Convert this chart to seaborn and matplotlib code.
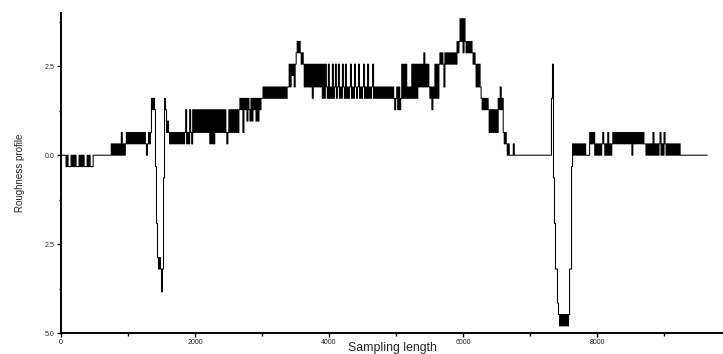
import numpy as np
import pandas as pd
import matplotlib
matplotlib.use("Agg")
import matplotlib.pyplot as plt
import seaborn as sns
from matplotlib.ticker import MultipleLocator, FixedLocator

# ---- data: profile levels (in units of level_step), one sample every sampling_step ----
sampling_step = 15          # sampling length between samples
level_step = 0.32           # height of one quantisation level

levels_a = [0, 0, 0, 0, 0,
            -1, 0, -1, -1, -1, 0, -1, 0, -1, 0, -1, -1, -1, 0, -1, 0, -1, 0, -1, -1,
            -1, 0, -1, 0, -1, -1, -1,
            0, 0, 0, 0, 0, 0, 0, 0, 0, 0, 0, 0, 0, 0, 0, 0, 0, 0]
levels_b = [1, 0,
            1, 0, 1, 0, 1, 0, 1, 0, 2, 0, 1, 0, 1,
            2, 1, 2, 1, 2, 1, 2, 1, 2, 1, 2, 1, 2, 1, 2, 1, 2, 1, 2, 1, 0, 1, 2, 1, 2,
            5, 4, 5, 4,
            -1, -6,
            -9, -10, -9, -10, -12, -10,
            -2, 5,
            4, 2, 3, 2,
            1, 2, 1, 2, 1, 2, 1, 2, 1, 2, 1, 2, 1, 2, 1,
            2, 4, 1, 2, 1, 4, 2, 1, 4, 2, 4, 2]
levels_c = [4, 2, 4, 2, 4, 2, 4, 2, 4, 2, 4, 2, 4, 1, 4, 1, 4, 1, 4, 2,
            4, 2, 4, 2, 4, 2, 4, 2, 4, 2, 1, 2, 4, 2, 4, 2, 4, 2, 4, 2,
            4, 2, 4, 5, 4, 5, 2, 5, 4, 5, 3, 5, 4,
            3, 5, 3, 5, 4, 5, 3, 5, 3, 5, 4, 5,
            5, 6, 5, 6, 5, 6, 5, 6, 5, 6, 5, 6, 5, 6, 5, 6, 5, 6, 5, 6, 5, 6, 5, 6, 5, 6,
            6, 8, 6, 8, 7, 8, 6,
            8, 9, 10, 9, 10, 9, 8, 9,
            8, 6, 8, 6, 8, 6, 8, 6, 8, 5, 8, 6, 8, 6, 8, 6, 8, 6, 8, 5, 8, 5, 8, 6, 5]
levels_d = [8, 5, 6, 5, 8, 5, 6, 8, 5, 6, 8, 5, 6, 5, 8, 6, 5, 8, 5, 6, 5, 6, 8, 5,
            6, 5, 8, 6, 5, 6, 8, 5, 6, 5, 6, 8, 5, 6, 5, 8, 5, 6, 5, 6, 8, 5, 6, 5,
            6, 5, 6, 5, 6, 5, 6, 5, 6, 5, 6, 5, 6, 5, 6, 5, 6, 5, 4, 5, 6, 4, 6, 4, 5,
            8, 5, 8, 5, 8, 5, 6, 5, 6, 5, 8, 5, 8, 5, 8, 5,
            8, 6, 8, 6, 8, 6, 9, 6, 8, 6, 8, 6,
            5, 6, 4, 6, 5,
            8, 5, 8, 5, 8, 9, 8, 9, 8, 6, 9, 8, 9, 8, 9, 8, 9, 8,
            9, 8, 9, 8,
            10, 9, 10, 12, 10, 12, 9, 12,
            10, 9, 10, 9, 10, 9, 10,
            9, 8, 9,
            8, 6, 8, 6, 8]
levels_e = [6, 5, 4, 5, 4, 5, 4, 5,
            4, 2, 4, 2, 4, 2, 4, 2, 4, 2,
            5, 4, 6, 4, 5,
            2, 1, 2, 1,
            0, 1, 0,
            0, 0, 0, 1, 0,
            0, 0, 0, 0, 0, 0, 0, 0, 0, 0, 0, 0, 0, 0, 0, 0, 0, 0,
            0, 0, 0, 0, 0, 0, 0, 0, 0, 0, 0, 0, 0, 0, 0, 0, 0, 0]
levels_f = [5, 8,
            -2, -6, -10, -10, -13,
            -14, -15, -14, -15, -14, -15, -14, -15, -14, -15, -14,
            -10, -10, -1,
            1, 0, 1, 0, 1, 0, 1, 0, 1, 0, 1, 0, 1, 0,
            0, 0, 0,
            2, 1, 2, 1, 2,
            0, 1, 0, 1, 0, 1, 0, 1, 2, 1, 0, 1, 0, 2, 0, 1, 0, 1,
            2, 1, 2, 1, 2, 1, 2, 1, 2,
            1, 2, 1, 2, 1, 2, 1, 2, 1, 2, 0, 2, 1, 2, 1, 2, 1, 2, 1, 2, 1, 2, 1,
            1, 0, 1, 0, 1, 0, 1, 0, 2, 0, 1, 0, 1, 0, 1, 2, 0, 1, 0, 2,
            1, 0, 1, 0, 1, 0, 1, 0, 1, 0, 1, 0, 1, 0, 1,
            0, 0, 0, 0, 0, 0, 0, 0, 0, 0, 0, 0, 0, 0,
            0, 0, 0, 0, 0, 0, 0, 0, 0, 0, 0, 0, 0, 0]

x_ticks = [0, 2000, 4000, 6000, 8000]
x_tick_labels = ["0", "2000", "4000", "6000", "8000"]
y_ticks = [2.5, 0.0, -2.5, -5.0]
y_tick_labels = ["2.5", "0.0", "2.5", "5.0"]

levels = levels_a + levels_b + levels_c + levels_d + levels_e + levels_f
df = pd.DataFrame({
    "Sampling length": np.arange(len(levels)) * sampling_step,
    "Roughness profile": np.array(levels) * level_step,
})

# ---- figure ----
sns.set_style("ticks")
plt.rcParams["font.family"] = ["Liberation Sans", "DejaVu Sans"]

fig = plt.figure(figsize=(7.23, 3.54), dpi=100)
ax = fig.add_axes([61 / 723, 1 - 333 / 354, 1 - 61 / 723, (333 - 13) / 354])

sns.lineplot(data=df, x="Sampling length", y="Roughness profile",
             estimator=None, drawstyle="steps-post", color="black",
             linewidth=0.75, ax=ax)

ax.set_xlim(0, 9880)
ax.set_ylim(-5.0, 4.0)
sns.despine(ax=ax)
for s in ("left", "bottom"):
    ax.spines[s].set_linewidth(1.4)
    ax.spines[s].set_color("black")

ax.xaxis.set_major_locator(FixedLocator(x_ticks))
ax.set_xticklabels(x_tick_labels)
ax.xaxis.set_minor_locator(MultipleLocator(1000))
ax.yaxis.set_major_locator(FixedLocator(y_ticks))
ax.set_yticklabels(y_tick_labels)
ax.yaxis.set_minor_locator(FixedLocator([3.75, 1.25, -1.25, -3.75]))

ax.tick_params(axis="both", which="major", direction="out", length=3, width=1.0,
               labelsize=5, pad=1.5, color="black", labelcolor="#222222")
ax.tick_params(axis="both", which="minor", direction="out", length=1.8, width=1.0,
               color="black")

ax.set_xlabel("Sampling length", fontsize=8.8)
ax.xaxis.set_label_coords(0.5, -8.5 / 320)
ax.set_ylabel("Roughness profile", fontsize=7)
ax.yaxis.set_label_coords(-36 / 662, 0.5)

fig.savefig("out.png", dpi=100)
